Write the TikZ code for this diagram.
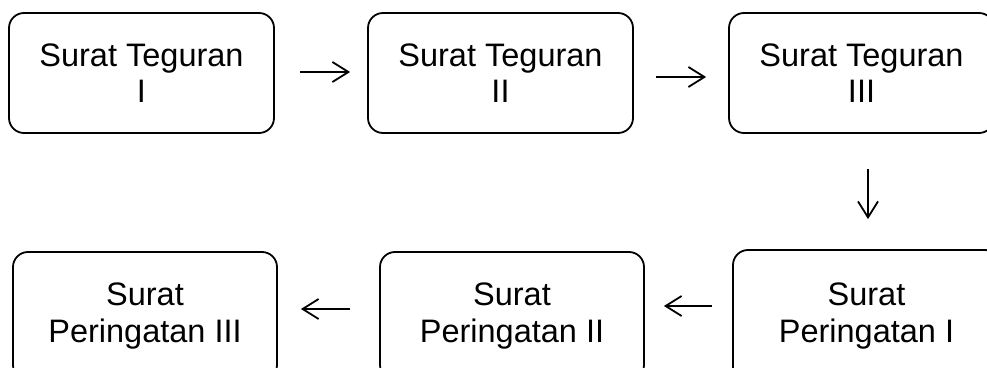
\documentclass[tikz,border=0pt]{standalone}
\usepackage{fontspec}
\setmainfont{Liberation Sans}
\usetikzlibrary{arrows.meta}
\tikzset{
  stepbox/.style={draw, line width=1.8pt, rounded corners=15pt, inner sep=0pt,
    align=center, font=\fontsize{32.5}{36.5}\selectfont},
  flow/.style={line width=1.8pt, -{Straight Barb[length=16pt,width=20pt]}}
}
\begin{document}
\begin{tikzpicture}[x=1pt,y=1pt]
\useasboundingbox (0,0) rectangle (987,367);
\clip (0,0) rectangle (987,367);
% top row
\node[stepbox, minimum width=265pt, minimum height=120pt] (b1) at (141.5,294) {Surat Teguran\\I};
\node[stepbox, minimum width=265pt, minimum height=120pt] (b2) at (500.5,294) {Surat Teguran\\II};
\node[stepbox, minimum width=265pt, minimum height=120pt] (b3) at (861.5,294) {Surat Teguran\\III};
% bottom row
\node[stepbox, minimum width=264pt, minimum height=128pt] (b4) at (145,51) {Surat\\Peringatan III};
\node[stepbox, minimum width=264pt, minimum height=128pt] (b5) at (512,51) {Surat\\Peringatan II};
\node[stepbox, minimum width=267pt, minimum height=132pt] (b6) at (866.5,51) {Surat\\Peringatan I};
% connectors
\draw[flow] ([xshift=25pt,yshift=1pt]b1.east) -- ([xshift=-17pt,yshift=1pt]b2.west);
\draw[flow] ([xshift=22pt,yshift=-4pt]b2.east) -- ([xshift=-22pt,yshift=-4pt]b3.west);
\draw[flow] ([xshift=6.5pt,yshift=-35pt]b3.south) -- ([xshift=1.5pt,yshift=30pt]b6.north);
\draw[flow] ([xshift=-20pt,yshift=10pt]b6.west) -- ([xshift=19pt,yshift=10pt]b5.east);
\draw[flow] ([xshift=-29pt,yshift=7pt]b5.west) -- ([xshift=23pt,yshift=7pt]b4.east);
\end{tikzpicture}
\end{document}
